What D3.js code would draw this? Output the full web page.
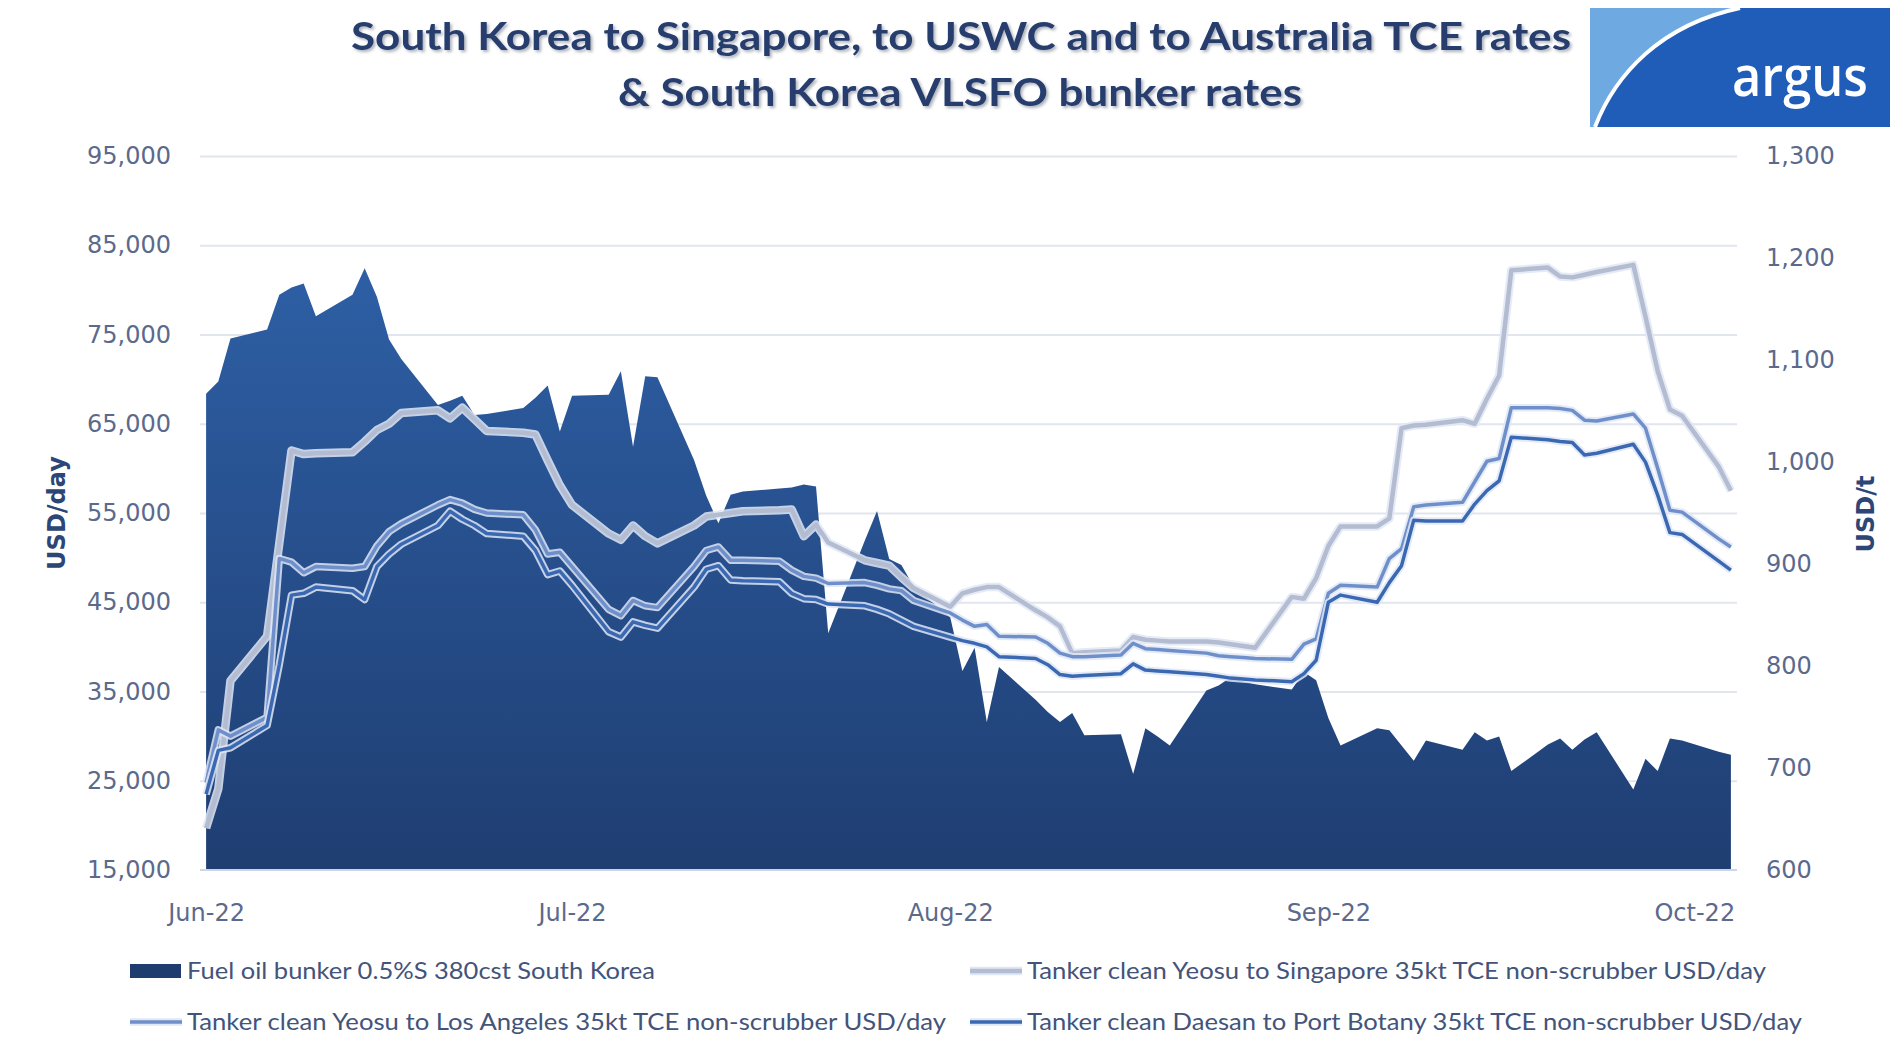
<!DOCTYPE html>
<html>
<head>
<meta charset="utf-8">
<script src="https://cdn.jsdelivr.net/npm/d3@7"></script>
<style>
  body { margin: 0; background: #fff; }
</style>
</head>
<body>
<div id="chart"></div>
<script>
// series: [date, value]
const bunker = [
  ["06-01",1067],["06-02",1079],["06-03",1121],["06-06",1130],["06-07",1164],["06-08",1171],["06-09",1175],["06-10",1143],
  ["06-13",1164],["06-14",1190],["06-15",1162],["06-16",1120],["06-17",1101],["06-20",1056],["06-21",1060],["06-22",1065],
  ["06-23",1046],["06-24",1047],["06-27",1053],["06-28",1063],["06-29",1075],["06-30",1030],["07-01",1065],["07-04",1066],
  ["07-05",1089],["07-06",1015],["07-07",1084],["07-08",1083],["07-11",1002],["07-12",967],["07-13",940],["07-14",968],
  ["07-15",971],["07-18",974],["07-19",975],["07-20",978],["07-21",976],["07-22",832],["07-25",923],["07-26",952],
  ["07-27",905],["07-28",899],["07-29",878],["08-01",848],["08-02",795],["08-03",818],["08-04",745],["08-05",799],
  ["08-08",767],["08-09",755],["08-10",745],["08-11",754],["08-12",732],["08-15",733],["08-16",694],["08-17",739],
  ["08-18",731],["08-19",722],["08-22",776],["08-23",781],["08-24",789],["08-25",785],["08-26",782],["08-29",777],
  ["08-30",794],["08-31",786],["09-01",749],["09-02",722],["09-05",739],["09-06",737],["09-07",722],["09-08",707],
  ["09-09",727],["09-12",718],["09-13",735],["09-14",727],["09-15",731],["09-16",697],["09-19",723],["09-20",729],
  ["09-21",718],["09-22",728],["09-23",735],["09-26",679],["09-27",709],["09-28",697],["09-29",729],["09-30",727],
  ["10-03",716],["10-04",713]
];

const singapore = [
  ["06-01",19700],["06-02",24100],["06-03",36200],["06-06",41200],["06-07",51600],["06-08",62000],["06-09",61600],["06-10",61700],
  ["06-13",61800],["06-14",63000],["06-15",64300],["06-16",65000],["06-17",66200],["06-20",66500],["06-21",65600],["06-22",66800],
  ["06-23",65500],["06-24",64200],["06-27",64000],["06-28",63800],["06-29",60900],["06-30",58100],["07-01",55900],["07-04",52700],
  ["07-05",52000],["07-06",53600],["07-07",52400],["07-08",51600],["07-11",53600],["07-12",54600],["07-13",54800],["07-14",55000],
  ["07-15",55200],["07-18",55300],["07-19",55400],["07-20",52400],["07-21",53700],["07-22",51700],["07-25",49700],["07-26",49400],
  ["07-27",49100],["07-28",47800],["07-29",46600],["08-01",44500],["08-02",46000],["08-03",46400],["08-04",46700],["08-05",46700],
  ["08-08",44100],["08-09",43300],["08-10",42300],["08-11",39300],["08-12",39400],["08-15",39600],["08-16",41100],["08-17",40800],
  ["08-18",40700],["08-19",40600],["08-22",40600],["08-23",40500],["08-24",40300],["08-25",40100],["08-26",39900],["08-29",45600],
  ["08-30",45400],["08-31",47700],["09-01",51300],["09-02",53500],["09-05",53500],["09-06",54400],["09-07",64500],["09-08",64800],
  ["09-09",64900],["09-12",65400],["09-13",65000],["09-14",67800],["09-15",70400],["09-16",82200],["09-19",82500],["09-20",81500],
  ["09-21",81400],["09-22",81700],["09-23",82000],["09-26",82800],["09-27",77000],["09-28",70900],["09-29",66600],["09-30",65900],
  ["10-03",60200],["10-04",57500]
];

const losAngeles = [
  ["06-01",24800],["06-02",30700],["06-03",30000],["06-06",32100],["06-07",49900],["06-08",49500],["06-09",48300],["06-10",49000],
  ["06-13",48800],["06-14",49000],["06-15",51300],["06-16",52900],["06-17",53800],["06-20",55900],["06-21",56500],["06-22",56100],
  ["06-23",55400],["06-24",55000],["06-27",54800],["06-28",53100],["06-29",50400],["06-30",50600],["07-01",49000],["07-04",44200],
  ["07-05",43500],["07-06",45200],["07-07",44600],["07-08",44400],["07-11",49000],["07-12",50800],["07-13",51200],["07-14",49700],
  ["07-15",49700],["07-18",49600],["07-19",48600],["07-20",47900],["07-21",47700],["07-22",47100],["07-25",47200],["07-26",46900],
  ["07-27",46500],["07-28",46300],["07-29",45200],["08-01",43800],["08-02",43000],["08-03",42300],["08-04",42500],["08-05",41200],
  ["08-08",41100],["08-09",40400],["08-10",39300],["08-11",38900],["08-12",38900],["08-15",39100],["08-16",40400],["08-17",39800],
  ["08-18",39700],["08-19",39600],["08-22",39300],["08-23",39000],["08-24",38900],["08-25",38800],["08-26",38700],["08-29",38600],
  ["08-30",40300],["08-31",40900],["09-01",46000],["09-02",46900],["09-05",46700],["09-06",49900],["09-07",51000],["09-08",55700],
  ["09-09",55900],["09-12",56200],["09-13",58500],["09-14",60800],["09-15",61100],["09-16",66800],["09-19",66800],["09-20",66700],
  ["09-21",66500],["09-22",65400],["09-23",65300],["09-26",66100],["09-27",64500],["09-28",60000],["09-29",55300],["09-30",55100],
  ["10-03",52100],["10-04",51200]
];

const portBotany = [
  ["06-01",23500],["06-02",28400],["06-03",28700],["06-06",31200],["06-07",38000],["06-08",45800],["06-09",46000],["06-10",46700],
  ["06-13",46300],["06-14",45300],["06-15",49000],["06-16",50400],["06-17",51500],["06-20",53600],["06-21",55200],["06-22",54300],
  ["06-23",53600],["06-24",52700],["06-27",52400],["06-28",50800],["06-29",48100],["06-30",48500],["07-01",46900],["07-04",41700],
  ["07-05",41100],["07-06",42800],["07-07",42400],["07-08",42100],["07-11",46700],["07-12",48700],["07-13",49100],["07-14",47500],
  ["07-15",47400],["07-18",47300],["07-19",46000],["07-20",45400],["07-21",45300],["07-22",44800],["07-25",44600],["07-26",44200],
  ["07-27",43700],["07-28",43000],["07-29",42300],["08-01",41100],["08-02",40700],["08-03",40400],["08-04",40000],["08-05",38900],
  ["08-08",38700],["08-09",38000],["08-10",36900],["08-11",36700],["08-12",36800],["08-15",37000],["08-16",38100],["08-17",37400],
  ["08-18",37300],["08-19",37200],["08-22",36900],["08-23",36700],["08-24",36500],["08-25",36400],["08-26",36300],["08-29",36100],
  ["08-30",37000],["08-31",38500],["09-01",45000],["09-02",45800],["09-05",45000],["09-06",47200],["09-07",49100],["09-08",54200],
  ["09-09",54100],["09-12",54100],["09-13",56000],["09-14",57500],["09-15",58600],["09-16",63500],["09-19",63200],["09-20",63000],
  ["09-21",62900],["09-22",61500],["09-23",61700],["09-26",62700],["09-27",60700],["09-28",57000],["09-29",52800],["09-30",52600],
  ["10-03",49600],["10-04",48600]
];

const leftTicks = [15000,25000,35000,45000,55000,65000,75000,85000,95000];
const rightTicks = [600,700,800,900,1000,1100,1200,1300];
const monthTicks = ["06-01","07-01","08-01","09-01","10-01"];

const titleLines = ["South Korea to Singapore, to USWC and to Australia TCE rates", "& South Korea VLSFO bunker rates"];
const legendLabels = [
  "Fuel oil bunker 0.5%S 380cst South Korea",
  "Tanker clean Yeosu to Singapore 35kt TCE non-scrubber USD/day",
  "Tanker clean Yeosu to Los Angeles 35kt TCE non-scrubber USD/day",
  "Tanker clean Daesan to Port Botany 35kt TCE non-scrubber USD/day"
];

const width = 1890, height = 1057;
const parse = d3.timeParse("%Y-%m-%d");
const day = s => parse("2022-" + s);
const rows = arr => arr.map(d => ({date: day(d[0]), v: d[1]}));

const svg = d3.select("#chart").append("svg")
    .attr("width", width)
    .attr("height", height)
    .style("font-family", "'DejaVu Sans', sans-serif");

const defs = svg.append("defs");
const grad = defs.append("linearGradient")
    .attr("id", "areaFill")
    .attr("gradientUnits", "userSpaceOnUse")
    .attr("x1", 0).attr("x2", 0).attr("y1", 250).attr("y2", 870);
grad.append("stop").attr("offset", "0%").attr("stop-color", "#2e60a6");
grad.append("stop").attr("offset", "100%").attr("stop-color", "#1f3e72");
const shadow = defs.append("filter").attr("id", "tshadow")
    .attr("x", "-5%").attr("y", "-30%").attr("width", "110%").attr("height", "160%");
shadow.append("feDropShadow").attr("dx", 2).attr("dy", 2).attr("stdDeviation", 1.6)
    .attr("flood-color", "#6b7386").attr("flood-opacity", 0.55);

const x = d3.scaleTime()
    .domain([new Date(2022, 4, 31, 12), new Date(2022, 9, 4, 12)])
    .range([200, 1737]);
const yL = d3.scaleLinear().domain([15000, 95000]).range([870, 156]);
const yR = d3.scaleLinear().domain([600, 1300]).range([870, 156]);

// gridlines
svg.append("g")
    .attr("transform", "translate(200,0)")
    .call(d3.axisRight(yL).tickValues(leftTicks.slice(1)).tickSize(1537).tickFormat(""))
    .call(g => g.select(".domain").remove())
    .call(g => g.selectAll("line").attr("stroke", "#e1e5ee").attr("stroke-width", 2));

// bunker area (right axis)
svg.append("path")
    .datum(rows(bunker))
    .attr("fill", "url(#areaFill)")
    .attr("d", d3.area().x(d => x(d.date)).y0(yR(600)).y1(d => yR(d.v)));

// x axis line
svg.append("line")
    .attr("x1", 200).attr("x2", 1737).attr("y1", 870).attr("y2", 870)
    .attr("stroke", "#cdd6e8").attr("stroke-width", 2);

// TCE lines (left axis)
const lineGen = d3.line().x(d => x(d.date)).y(d => yL(d.v));
const lines = [
  {data: singapore, color: "#b3bcd0", w: 4.5},
  {data: losAngeles, color: "#6f8fcb", w: 3.5},
  {data: portBotany, color: "#3a68b2", w: 3.5}
];
lines.forEach(s => {
  const r = rows(s.data);
  svg.append("path").datum(r)
      .attr("fill", "none").attr("stroke", "#dfe8f6").attr("stroke-opacity", 0.85)
      .attr("stroke-width", s.w + 4).attr("stroke-linejoin", "round")
      .attr("d", lineGen);
  svg.append("path").datum(r)
      .attr("fill", "none").attr("stroke", s.color)
      .attr("stroke-width", s.w).attr("stroke-linejoin", "round")
      .attr("d", lineGen);
});

// axes labels
const tickFont = g => g.call(g => g.select(".domain").remove())
    .call(g => g.selectAll("text").attr("fill", "#5b6a8c").style("font-size", "24px")
      .style("font-family", "'DejaVu Sans', sans-serif"));

svg.append("g")
    .attr("transform", "translate(171,0)")
    .call(d3.axisLeft(yL).tickValues(leftTicks).tickSize(0).tickPadding(0).tickFormat(d3.format(",")))
    .call(tickFont);

svg.append("g")
    .attr("transform", "translate(1766,0)")
    .call(d3.axisRight(yR).tickValues(rightTicks).tickSize(0).tickPadding(0).tickFormat(d3.format(",")))
    .call(tickFont);

svg.append("g")
    .attr("transform", "translate(0,870)")
    .call(d3.axisBottom(x).tickValues(monthTicks.map(day)).tickSize(0).tickPadding(34)
      .tickFormat(d3.timeFormat("%b-%y")))
    .call(tickFont);

svg.append("text")
    .attr("transform", "translate(65,513) rotate(-90)")
    .attr("text-anchor", "middle")
    .attr("fill", "#2b4677").style("font-weight", "bold").style("font-size", "24px")
    .text("USD/day");

svg.append("text")
    .attr("transform", "translate(1874,514) rotate(-90)")
    .attr("text-anchor", "middle")
    .attr("fill", "#2b4677").style("font-weight", "bold").style("font-size", "24px")
    .text("USD/t");

// title
const title = svg.append("g")
    .attr("filter", "url(#tshadow)")
    .style("font-family", "Lato, sans-serif").style("font-weight", "bold").style("font-size", "38px")
    .attr("fill", "#253e6d");
title.append("text").attr("x", 961).attr("y", 50).attr("text-anchor", "middle")
    .attr("textLength", 1220).attr("lengthAdjust", "spacingAndGlyphs").text(titleLines[0]);
title.append("text").attr("x", 960).attr("y", 106).attr("text-anchor", "middle")
    .attr("textLength", 684).attr("lengthAdjust", "spacingAndGlyphs").text(titleLines[1]);

// argus logo
const logo = svg.append("g");
logo.append("rect").attr("x", 1590).attr("y", 8).attr("width", 300).attr("height", 119).attr("fill", "#6eaae1");
logo.append("path").attr("d", "M1595,127 C1615,75 1660,25 1740,8 L1890,8 L1890,127 Z").attr("fill", "#1f5db8");
logo.append("path").attr("d", "M1595,127 C1615,75 1660,25 1740,8")
    .attr("fill", "none").attr("stroke", "#fff").attr("stroke-width", 4);
logo.append("text").attr("x", 1800).attr("y", 96).attr("text-anchor", "middle")
    .attr("fill", "#fff").style("font-family", "'Open Sans', sans-serif").style("font-weight", 600)
    .style("font-size", "56px").attr("textLength", 136).attr("lengthAdjust", "spacingAndGlyphs")
    .text("argus");

// legend
const legendItems = [
  {label: legendLabels[0], kind: "rect", color: "#1f3c6e", x: 130, y: 971, w: 468},
  {label: legendLabels[1], kind: "line", color: lines[0].color, sw: lines[0].w, x: 970, y: 971, w: 739},
  {label: legendLabels[2], kind: "line", color: lines[1].color, sw: lines[1].w, x: 130, y: 1022, w: 759},
  {label: legendLabels[3], kind: "line", color: lines[2].color, sw: lines[2].w, x: 970, y: 1022, w: 775}
];
const leg = svg.append("g").selectAll("g").data(legendItems).join("g")
    .attr("transform", d => `translate(${d.x},${d.y})`);
leg.filter(d => d.kind === "rect").append("rect")
    .attr("x", 0).attr("y", -7).attr("width", 51).attr("height", 14).attr("fill", d => d.color);
leg.filter(d => d.kind === "line").append("line")
    .attr("x1", 0).attr("x2", 52).attr("stroke", "#dfe8f6").attr("stroke-width", d => d.sw + 4);
leg.filter(d => d.kind === "line").append("line")
    .attr("x1", 0).attr("x2", 52).attr("stroke", d => d.color).attr("stroke-width", d => d.sw);
leg.append("text")
    .attr("x", 57).attr("y", 8)
    .attr("fill", "#43547a")
    .style("font-family", "Lato, sans-serif").style("font-size", "23px")
    .attr("textLength", d => d.w).attr("lengthAdjust", "spacingAndGlyphs")
    .text(d => d.label);
</script>
</body>
</html>
